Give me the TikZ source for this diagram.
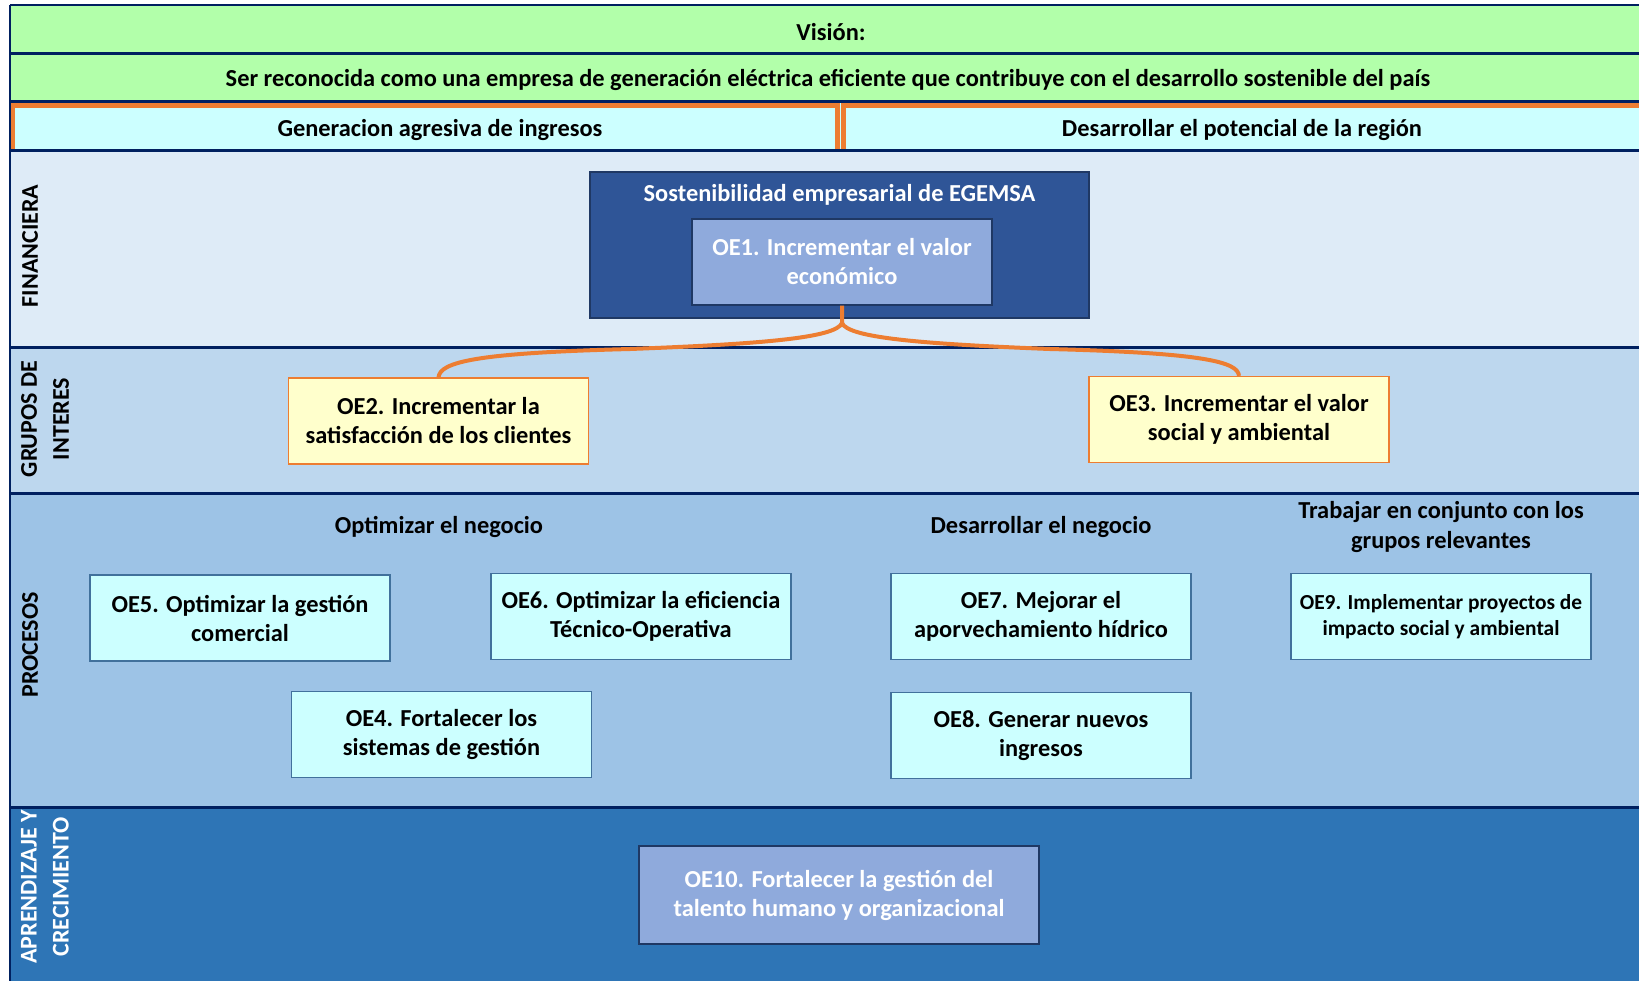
\documentclass[tikz,border=0pt]{standalone}
\usepackage{fontspec}
\setmainfont{Carlito}
\definecolor{cgreen}{HTML}{B2FFAA}
\definecolor{ccyan}{HTML}{CCFFFF}
\definecolor{cfin}{HTML}{DEEBF7}
\definecolor{cgrp}{HTML}{BDD7EE}
\definecolor{cproc}{HTML}{9DC3E6}
\definecolor{capr}{HTML}{2E75B6}
\definecolor{cnavy}{HTML}{002060}
\definecolor{cdark}{HTML}{1F3864}
\definecolor{csost}{HTML}{2F5597}
\definecolor{coe}{HTML}{8FAADC}
\definecolor{corange}{HTML}{ED7D31}
\definecolor{cyellow}{HTML}{FFFFCC}
\definecolor{csteel}{HTML}{41719C}
\tikzset{
  txt/.style={font=\fontsize{12.2}{14.5}\selectfont\bfseries, align=center, inner sep=0pt},
  navyline/.style={draw=cnavy, line width=1.5pt},
  orangeline/.style={draw=corange, line width=2.5pt},
  lightbox/.style={txt, draw=csteel, line width=0.6pt, fill=ccyan, minimum width=150pt, minimum height=43pt},
  yellowbox/.style={txt, draw=corange, line width=0.6pt, fill=cyellow, minimum width=150pt, minimum height=43pt},
  bluebox/.style={txt, draw=cdark, line width=0.6pt, fill=coe, text=white},
  bracelink/.style={draw=corange, line width=2pt},
  sidelabel/.style={txt, rotate=90, font=\fontsize{12}{16}\selectfont\bfseries}
}
\begin{document}
\begin{tikzpicture}[x=0.5pt,y=-0.5pt]
\useasboundingbox (0,0) rectangle (1639,981);
% bands
\fill[cgreen] (10,5) rectangle (1639,101);
\fill[ccyan] (10,101) rectangle (1639,150);
\fill[cfin] (10,150) rectangle (1639,347);
\fill[cgrp] (10,347) rectangle (1639,493);
\fill[cproc] (10,493) rectangle (1639,807);
\fill[capr] (10,807) rectangle (1639,981);
% orange cell borders
\draw[orangeline] (12.5,150) -- (12.5,105.5) -- (837.5,105.5) -- (837.5,150);
\draw[orangeline] (1639,105.5) -- (843.5,105.5) -- (843.5,150);
% navy separators
\draw[navyline, line width=1pt] (10,5) -- (1639,5);
\draw[navyline] (10,53) -- (1639,53);
\draw[navyline] (10,101.5) -- (1639,101.5);
\draw[navyline] (10,150) -- (1639,150);
\draw[navyline] (10,347) -- (1639,347);
\draw[navyline] (10,493) -- (1639,493);
\draw[navyline] (10,807) -- (1639,807);
\draw[navyline, line width=0.8pt] (10,5) -- (10,981);
% header texts
\node[txt] (vision) at (831,32) {Visión:};
\node[txt] (mision) at (828,80) {Ser reconocida como una empresa de generación eléctrica eficiente que contribuye con el desarrollo sostenible del país};
\node[txt] (gen) at (440,130) {Generacion agresiva de ingresos};
\node[txt] (des) at (1242,130) {Desarrollar el potencial de la región};
% side labels
\node[sidelabel] (lfin) at (30,246) {FINANCIERA};
\node[sidelabel] (lgrp) at (45,419) {GRUPOS DE\\INTERES};
\node[sidelabel] (lproc) at (30,645) {PROCESOS};
\node[sidelabel, text=white] (lapr) at (45,887) {APRENDIZAJE Y\\CRECIMIENTO};
% financiera
\node[txt, draw=cdark, line width=0.6pt, fill=csost, minimum width=249.5pt, minimum height=73pt] (sost) at (839.5,245) {};
\node[txt, text=white] (sosttitle) at (839.5,195) {Sostenibilidad empresarial de EGEMSA};
\node[bluebox, minimum width=150pt, minimum height=43pt] (oe1) at (842,262) {OE1. Incrementar el valor\\económico};
% grupos de interes
\node[yellowbox] (oe2) at (438.5,421) {OE2. Incrementar la\\satisfacción de los clientes};
\node[yellowbox] (oe3) at (1239,419.5) {OE3. Incrementar el valor\\social y ambiental};
% brace connector
\coordinate (cusp) at (842,323);
\draw[bracelink] (oe1.south) -- (cusp)
  .. controls (836,338) and (760,344) .. (630,349)
  .. controls (475,353) and (440,362) .. (oe2.north);
\draw[bracelink] (cusp)
  .. controls (848,338) and (924,344) .. (1050,349)
  .. controls (1205,353) and (1238,362) .. (oe3.north);
% procesos
\node[txt] (hopt) at (439,527) {Optimizar el negocio};
\node[txt] (hdes) at (1041,527) {Desarrollar el negocio};
\node[txt, font=\fontsize{12.2}{15}\selectfont\bfseries] (htra) at (1441,527) {Trabajar en conjunto con los\\grupos relevantes};
\node[lightbox] (oe5) at (240,618) {OE5. Optimizar la gestión\\comercial};
\node[lightbox] (oe6) at (641,616.5) {OE6. Optimizar la eficiencia\\Técnico-Operativa};
\node[lightbox] (oe7) at (1041,616.5) {OE7. Mejorar el\\aporvechamiento hídrico};
\node[lightbox, font=\fontsize{10.7}{13}\selectfont\bfseries] (oe9) at (1441,616.5) {OE9. Implementar proyectos de\\impacto social y ambiental};
\node[lightbox] (oe4) at (441.5,734.5) {OE4. Fortalecer los\\sistemas de gestión};
\node[lightbox] (oe8) at (1041,735.5) {OE8. Generar nuevos\\ingresos};
% aprendizaje
\node[bluebox, minimum width=200pt, minimum height=49pt] (oe10) at (839,895) {OE10. Fortalecer la gestión del\\talento humano y organizacional};
\end{tikzpicture}
\end{document}
